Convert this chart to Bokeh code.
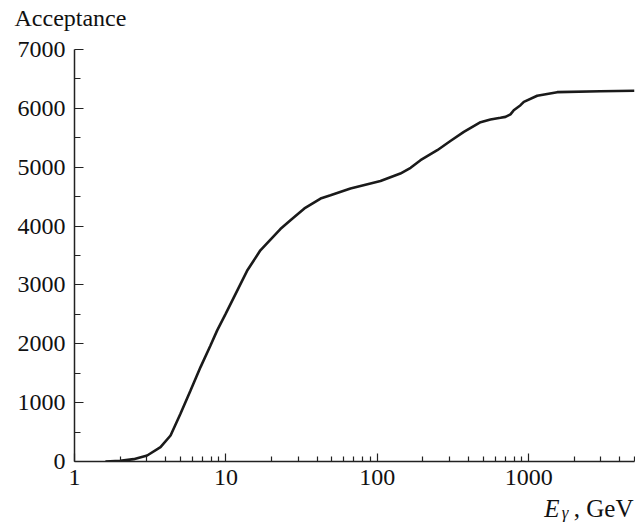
from bokeh.plotting import figure
from bokeh.models import FixedTicker, PrintfTickFormatter, Range1d, ColumnDataSource
from bokeh.layouts import column
from bokeh.core.properties import value
from bokeh.embed import file_html
from bokeh.resources import INLINE

# Data
energy = [1.6, 2.0, 2.46, 3.02, 3.7, 4.31, 5.01, 5.84, 6.8, 7.91, 8.76, 9.94, 13.8, 16.9,
          22.9, 26.7, 33, 42.2, 49.1, 66.5, 105, 142, 166, 193, 249, 304, 373, 481, 559,
          651, 703, 758, 797, 883, 929, 1138, 1543, 2980, 5000]
acceptance = [0, 10, 40, 102, 243, 442, 811, 1207, 1604, 1970, 2228, 2504, 3240, 3588,
              3950, 4099, 4300, 4468, 4524, 4638, 4765, 4893, 4990, 5119, 5289, 5446, 5600,
              5765, 5811, 5840, 5855, 5898, 5969, 6054, 6111, 6215, 6275, 6290, 6300]

x_major = [1, 10, 100, 1000]
x_minor = [2, 3, 4, 5, 6, 7, 8, 9, 20, 30, 40, 50, 60, 70, 80, 90,
           200, 300, 400, 500, 600, 700, 800, 900, 2000, 3000, 4000, 5000]
y_major = [0, 1000, 2000, 3000, 4000, 5000, 6000, 7000]
y_minor = [500, 1500, 2500, 3500, 4500, 5500, 6500]

FONT = "Liberation Serif"
FS = "24px"
W = 635


def strip(h):
    f = figure(width=W, height=h, output_backend="svg", toolbar_location=None,
               x_range=Range1d(0, W), y_range=Range1d(0, h), title=None,
               x_axis_location=None, y_axis_location=None,
               min_border=0, min_border_left=0, min_border_right=0,
               min_border_top=0, min_border_bottom=0)
    f.grid.visible = False
    f.outline_line_color = None
    f.frame_align = False
    return f


# top strip: y-axis caption
r = strip(32)
ycap = ColumnDataSource(dict(x=[14], y=[15], t=["Acceptance"]))
r.text(x="x", y="y", text="t", source=ycap, text_font=value(FONT), text_font_size=FS,
       text_align="left", text_baseline="alphabetic", text_color="#111111")

p = figure(width=W, height=463, x_axis_type="log", output_backend="svg",
           toolbar_location=None, x_range=Range1d(1, 5000), y_range=Range1d(0, 7000),
           min_border_left=74, min_border_right=1, min_border_top=17, min_border_bottom=34,
           title=None)
p.frame_align = False
p.outline_line_color = None
p.xgrid.visible = False
p.ygrid.visible = False
p.background_fill_color = "white"
p.border_fill_color = "white"

p.line(energy, acceptance, line_color="#1a1a1a", line_width=2.6)

for ax in (p.xaxis[0], p.yaxis[0]):
    ax.axis_line_color = "#222222"
    ax.axis_line_width = 1.5
    ax.major_tick_line_color = "#222222"
    ax.minor_tick_line_color = "#222222"
    ax.major_tick_line_width = 1.2
    ax.minor_tick_line_width = 1.2
    ax.major_tick_out = 0
    ax.minor_tick_out = 0
    ax.major_label_text_font = FONT
    ax.major_label_text_font_size = FS
    ax.major_label_text_color = "#111111"

p.xaxis.ticker = FixedTicker(ticks=x_major, minor_ticks=x_minor)
p.xaxis.formatter = PrintfTickFormatter(format="%d")
p.xaxis.major_tick_in = 8
p.xaxis.minor_tick_in = 5
p.xaxis.major_label_standoff = 8

p.yaxis.ticker = FixedTicker(ticks=y_major, minor_ticks=y_minor)
p.yaxis.formatter = PrintfTickFormatter(format="%d")
p.yaxis.major_tick_in = 9
p.yaxis.minor_tick_in = 6
p.yaxis.major_label_standoff = 9

# bottom strip: x-axis caption, E (italic) with subscript gamma, then ", GeV"
q = strip(30)
cap = ColumnDataSource(dict(x=[633], y=[17], t=[", GeV"]))
q.text(x="x", y="y", text="t", source=cap, text_font=value(FONT), text_font_size="25px",
       text_align="right", text_baseline="alphabetic", text_color="#111111")
sub = ColumnDataSource(dict(x=[568], y=[13], t=["\u03b3"]))
q.text(x="x", y="y", text="t", source=sub, text_font=value(FONT), text_font_size="17px",
       text_font_style="italic", text_align="right", text_baseline="alphabetic",
       text_color="#111111")
sym = ColumnDataSource(dict(x=[559], y=[17], t=["E"]))
q.text(x="x", y="y", text="t", source=sym, text_font=value(FONT), text_font_size="25px",
       text_font_style="italic", text_align="right", text_baseline="alphabetic",
       text_color="#111111")

layout = column(r, p, q, spacing=0)
open("out.html", "w").write(file_html(layout, INLINE))
